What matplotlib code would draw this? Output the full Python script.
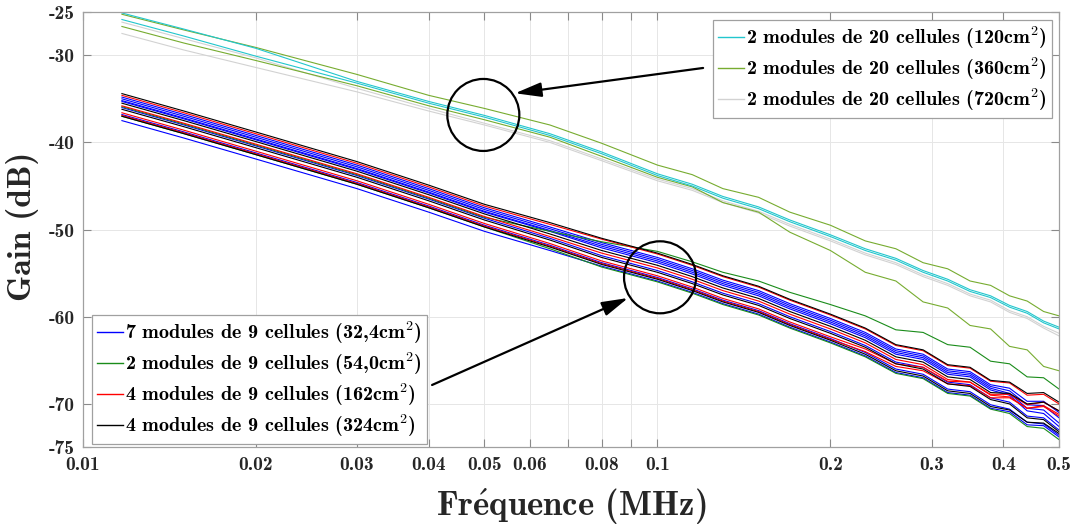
import matplotlib
matplotlib.use("Agg")
import matplotlib.pyplot as plt
from matplotlib.lines import Line2D
from matplotlib.patches import Ellipse

plt.rcParams['font.family'] = ['cmb10', 'DejaVu Serif']
plt.rcParams['mathtext.fontset'] = 'cm'
plt.rcParams['axes.unicode_minus'] = False

# frequency points (MHz)
freq = [0.0117, 0.015, 0.02, 0.03, 0.04, 0.05, 0.065, 0.08, 0.1, 0.115, 0.13, 0.15,
        0.17, 0.2, 0.23, 0.26, 0.29, 0.32, 0.35, 0.38, 0.41, 0.44, 0.47, 0.5]

# 2 modules de 20 cellules (upper group), gain in dB
cyan_curves = [
    [-25.15, -27.0, -29.2, -33.0, -35.3, -36.9, -39.0, -41.1, -43.6, -44.8, -46.2, -47.4,
     -48.9, -50.6, -52.2, -53.3, -54.7, -55.7, -56.9, -57.6, -58.7, -59.4, -60.5, -61.2],
    [-25.9, -27.8, -30.1, -33.2, -35.5, -37.1, -39.2, -41.3, -43.8, -45.0, -46.4, -47.6,
     -49.1, -50.8, -52.4, -53.5, -54.9, -55.9, -57.1, -57.8, -58.9, -59.6, -60.7, -61.4],
]
olive_curves = [
    [-25.3, -27.1, -29.1, -32.2, -34.6, -36.1, -38.0, -40.1, -42.6, -43.7, -45.3, -46.3,
     -48.0, -49.5, -51.3, -52.2, -53.8, -54.5, -55.9, -56.4, -57.6, -58.2, -59.4, -59.9],
    [-26.7, -28.6, -30.6, -33.5, -35.8, -37.4, -39.4, -41.6, -44.0, -45.1, -46.9, -48.0,
     -50.3, -52.4, -54.9, -55.9, -58.3, -59.0, -61.0, -61.4, -63.4, -63.8, -65.7, -66.2],
]
gray_curves = [
    [-26.2, -28.1, -30.3, -33.8, -36.1, -37.8, -39.8, -41.9, -44.2, -45.3, -46.7, -47.9,
     -49.4, -51.1, -52.7, -53.8, -55.2, -56.2, -57.4, -58.1, -59.3, -60.0, -61.1, -61.9],
    [-27.5, -29.4, -31.4, -34.2, -36.4, -38.0, -40.0, -42.1, -44.4, -45.5, -46.9, -48.1,
     -49.6, -51.3, -52.9, -54.0, -55.4, -56.4, -57.6, -58.3, -59.5, -60.2, -61.3, -62.2],
]

# modules de 9 cellules (lower group)
blue_curves = [
    [-34.8, -36.8, -39.2, -42.6, -45.3, -47.5, -49.7, -51.5, -53.2, -54.5, -55.8, -57.0,
     -58.5, -60.2, -61.8, -63.7, -64.3, -66.0, -66.3, -67.8, -68.2, -69.7, -69.7, -71.0],
    [-35.0, -37.0, -39.4, -42.8, -45.5, -47.7, -49.9, -51.7, -53.4, -54.7, -56.0, -57.2,
     -58.7, -60.4, -62.0, -63.9, -64.5, -66.2, -66.5, -68.0, -68.5, -70.1, -70.2, -71.6],
    [-35.2, -37.2, -39.6, -43.0, -45.7, -47.9, -50.1, -51.9, -53.6, -54.9, -56.2, -57.4,
     -58.9, -60.6, -62.2, -64.1, -64.7, -66.4, -66.7, -68.2, -68.8, -70.5, -70.7, -72.2],
    [-35.3, -37.3, -39.7, -43.1, -45.8, -48.0, -50.2, -52.1, -53.8, -55.1, -56.4, -57.6,
     -59.1, -60.8, -62.4, -64.3, -64.9, -66.6, -66.9, -68.4, -69.0, -70.8, -71.1, -72.6],
    [-36.0, -38.0, -40.4, -43.8, -46.5, -48.7, -51.0, -53.0, -54.7, -56.0, -57.3, -58.5,
     -60.0, -61.7, -63.3, -65.2, -65.8, -67.5, -67.8, -69.3, -69.8, -71.4, -71.6, -73.0],
    [-36.8, -38.8, -41.2, -44.6, -47.3, -49.5, -51.8, -53.8, -55.5, -56.8, -58.1, -59.3,
     -60.8, -62.5, -64.1, -66.0, -66.6, -68.3, -68.6, -70.1, -70.6, -72.1, -72.3, -73.6],
    [-37.5, -39.5, -41.9, -45.3, -48.0, -50.2, -52.4, -54.2, -55.9, -57.2, -58.5, -59.7,
     -61.2, -62.9, -64.5, -66.4, -67.0, -68.7, -69.0, -70.5, -70.9, -72.4, -72.5, -73.8],
]
green_curves = [
    [-35.9, -37.9, -40.3, -43.7, -46.4, -48.6, -50.2, -51.4, -52.5, -53.7, -54.9, -55.9,
     -57.2, -58.6, -59.9, -61.5, -61.8, -63.2, -63.5, -65.1, -65.4, -66.9, -67.0, -68.3],
    [-37.0, -39.0, -41.4, -44.8, -47.5, -49.7, -52.2, -54.3, -56.0, -57.3, -58.6, -59.8,
     -61.3, -63.0, -64.6, -66.5, -67.1, -68.8, -69.1, -70.6, -71.1, -72.6, -72.8, -74.1],
]
red_curves = [
    [-34.6, -36.6, -39.0, -42.4, -45.1, -47.3, -49.4, -51.1, -52.8, -54.1, -55.4, -56.6,
     -58.1, -59.8, -61.4, -63.3, -63.9, -65.6, -65.9, -67.4, -67.6, -69.0, -68.9, -70.0],
    [-35.8, -37.8, -40.2, -43.6, -46.3, -48.5, -50.8, -52.7, -54.4, -55.7, -57.0, -58.2,
     -59.7, -61.4, -63.0, -64.9, -65.5, -67.2, -67.5, -69.0, -69.2, -70.5, -70.3, -71.4],
    [-36.6, -38.6, -41.0, -44.4, -47.1, -49.3, -51.6, -53.6, -55.3, -56.6, -57.9, -59.1,
     -60.6, -62.3, -63.7, -65.4, -65.8, -67.4, -67.5, -68.9, -68.9, -70.1, -69.8, -70.8],
    [-36.9, -38.9, -41.3, -44.7, -47.4, -49.6, -51.9, -53.9, -55.6, -56.9, -58.2, -59.4,
     -60.9, -62.6, -64.0, -65.7, -66.2, -67.7, -67.9, -69.3, -69.3, -70.5, -70.2, -71.2],
]
black_curves = [
    [-34.4, -36.4, -38.8, -42.2, -44.9, -47.1, -49.2, -51.0, -52.7, -54.0, -55.3, -56.5,
     -58.0, -59.7, -61.3, -63.2, -63.8, -65.5, -65.8, -67.3, -67.5, -68.8, -68.7, -69.8],
    [-35.5, -37.5, -39.9, -43.3, -46.0, -48.2, -50.5, -52.4, -54.1, -55.4, -56.7, -57.9,
     -59.4, -61.1, -62.7, -64.6, -65.2, -66.9, -67.2, -68.7, -68.8, -70.0, -69.8, -70.8],
    [-36.2, -38.2, -40.6, -44.0, -46.7, -48.9, -51.2, -53.2, -54.9, -56.2, -57.5, -58.7,
     -60.2, -61.9, -63.5, -65.4, -66.0, -67.7, -68.0, -69.5, -70.0, -71.6, -71.8, -73.2],
    [-37.0, -39.0, -41.4, -44.8, -47.5, -49.7, -52.0, -54.0, -55.7, -57.0, -58.3, -59.5,
     -61.0, -62.7, -64.3, -66.2, -66.8, -68.5, -68.8, -70.3, -70.7, -72.1, -72.2, -73.4],
]

upper_labels = ['2 modules de 20 cellules (120cm$^{\\mathbf{2}}$)',
                '2 modules de 20 cellules (360cm$^{\\mathbf{2}}$)',
                '2 modules de 20 cellules (720cm$^{\\mathbf{2}}$)']
lower_labels = ['7 modules de 9 cellules (32,4cm$^{\\mathbf{2}}$)',
                '2 modules de 9 cellules (54,0cm$^{\\mathbf{2}}$)',
                '4 modules de 9 cellules (162cm$^{\\mathbf{2}}$)',
                '4 modules de 9 cellules (324cm$^{\\mathbf{2}}$)']

xticks = [0.01, 0.02, 0.03, 0.04, 0.05, 0.06, 0.07, 0.08, 0.09, 0.1, 0.2, 0.3, 0.4, 0.5]
xticklabels = ['0.01', '0.02', '0.03', '0.04', '0.05', '0.06', '', '0.08', '', '0.1',
               '0.2', '0.3', '0.4', '0.5']
yticks = [-75, -70, -60, -50, -40, -30, -25]

c_cyan = '#22c6cd'
c_olive = '#77ac30'
c_gray = '#d2d2d2'
c_blue = '#0000ff'
c_green = '#1a8c1a'
c_red = '#ff0000'
c_black = '#000000'

fig = plt.figure(figsize=(10.83, 5.28), dpi=100)
ax = fig.add_axes([0.0764, 0.1525, 0.9015, 0.8254])

lw = 0.8
for ys in gray_curves:
    ax.plot(freq, ys, color=c_gray, lw=lw)
for ys in olive_curves:
    ax.plot(freq, ys, color=c_olive, lw=lw)
for ys in cyan_curves:
    ax.plot(freq, ys, color=c_cyan, lw=lw)
for ys in blue_curves:
    ax.plot(freq, ys, color=c_blue, lw=lw)
for ys in green_curves:
    ax.plot(freq, ys, color=c_green, lw=lw)
for ys in red_curves:
    ax.plot(freq, ys, color=c_red, lw=lw)
for ys in black_curves:
    ax.plot(freq, ys, color=c_black, lw=lw)

ax.set_xscale('log')
ax.set_xlim(0.01, 0.5)
ax.set_ylim(-75, -25)
ax.xaxis.set_minor_locator(plt.NullLocator())
ax.set_xticks(xticks)
ax.set_xticklabels(xticklabels)
ax.set_yticks(yticks)
ax.set_yticklabels([str(v) for v in yticks])
ax.tick_params(direction='in', length=6, width=0.8, color='#8a8a8a', labelsize=14,
               labelcolor='#262626', top=True, right=True, pad=6)
ax.grid(True, color='#e6e6e6', lw=0.7)
ax.set_axisbelow(True)
for s in ax.spines.values():
    s.set_color('#a0a0a0')
    s.set_linewidth(0.9)

fig.text(0.0212, 0.571, 'Gain (dB)', rotation=90, ha='center', va='center', fontsize=24,
         color='#262626')
fig.text(0.527, 0.040, 'Fr$\\mathbf{\\acute{e}}$quence (MHz)', ha='center', va='center',
         fontsize=25, color='#262626')

# circles and arrows
r = 36
ax.add_patch(Ellipse((0.4103, 0.763), 2 * r / 976.3, 2 * r / 435.8, transform=ax.transAxes,
                     fill=False, ec='k', lw=1.6, zorder=5))
ax.add_patch(Ellipse((0.5913, 0.3905), 2 * r / 976.3, 2 * r / 435.8, transform=ax.transAxes,
                     fill=False, ec='k', lw=1.6, zorder=5))
arrow_kw = dict(arrowstyle='-|>,head_length=0.8,head_width=0.22', color='k', lw=1.6,
                mutation_scale=20, shrinkA=0, shrinkB=0)
ax.annotate('', xy=(0.4428, 0.8128), xytext=(0.6354, 0.8708), xycoords='axes fraction',
            textcoords='axes fraction', arrowprops=arrow_kw, zorder=6)
ax.annotate('', xy=(0.5586, 0.343), xytext=(0.3578, 0.1434), xycoords='axes fraction',
            textcoords='axes fraction', arrowprops=arrow_kw, zorder=6)

leg_kw = dict(fontsize=14.5, frameon=True, fancybox=False, framealpha=1, edgecolor='#a0a0a0',
              handlelength=1.3, handletextpad=0.1, labelspacing=0.22, borderpad=0.25,
              borderaxespad=0)
h_up = [Line2D([], [], color=c, lw=1) for c in (c_cyan, c_olive, c_gray)]
leg1 = ax.legend(h_up, upper_labels, loc='upper right', bbox_to_anchor=(0.9928, 0.981), **leg_kw)
leg1.get_frame().set_linewidth(0.9)
ax.add_artist(leg1)
h_low = [Line2D([], [], color=c, lw=1) for c in (c_blue, c_green, c_red, c_black)]
leg2 = ax.legend(h_low, lower_labels, loc='lower left', bbox_to_anchor=(0.0095, 0.008), **leg_kw)
leg2.get_frame().set_linewidth(0.9)
leg1.set_zorder(7)
leg2.set_zorder(7)

fig.savefig('out.png', dpi=100)
